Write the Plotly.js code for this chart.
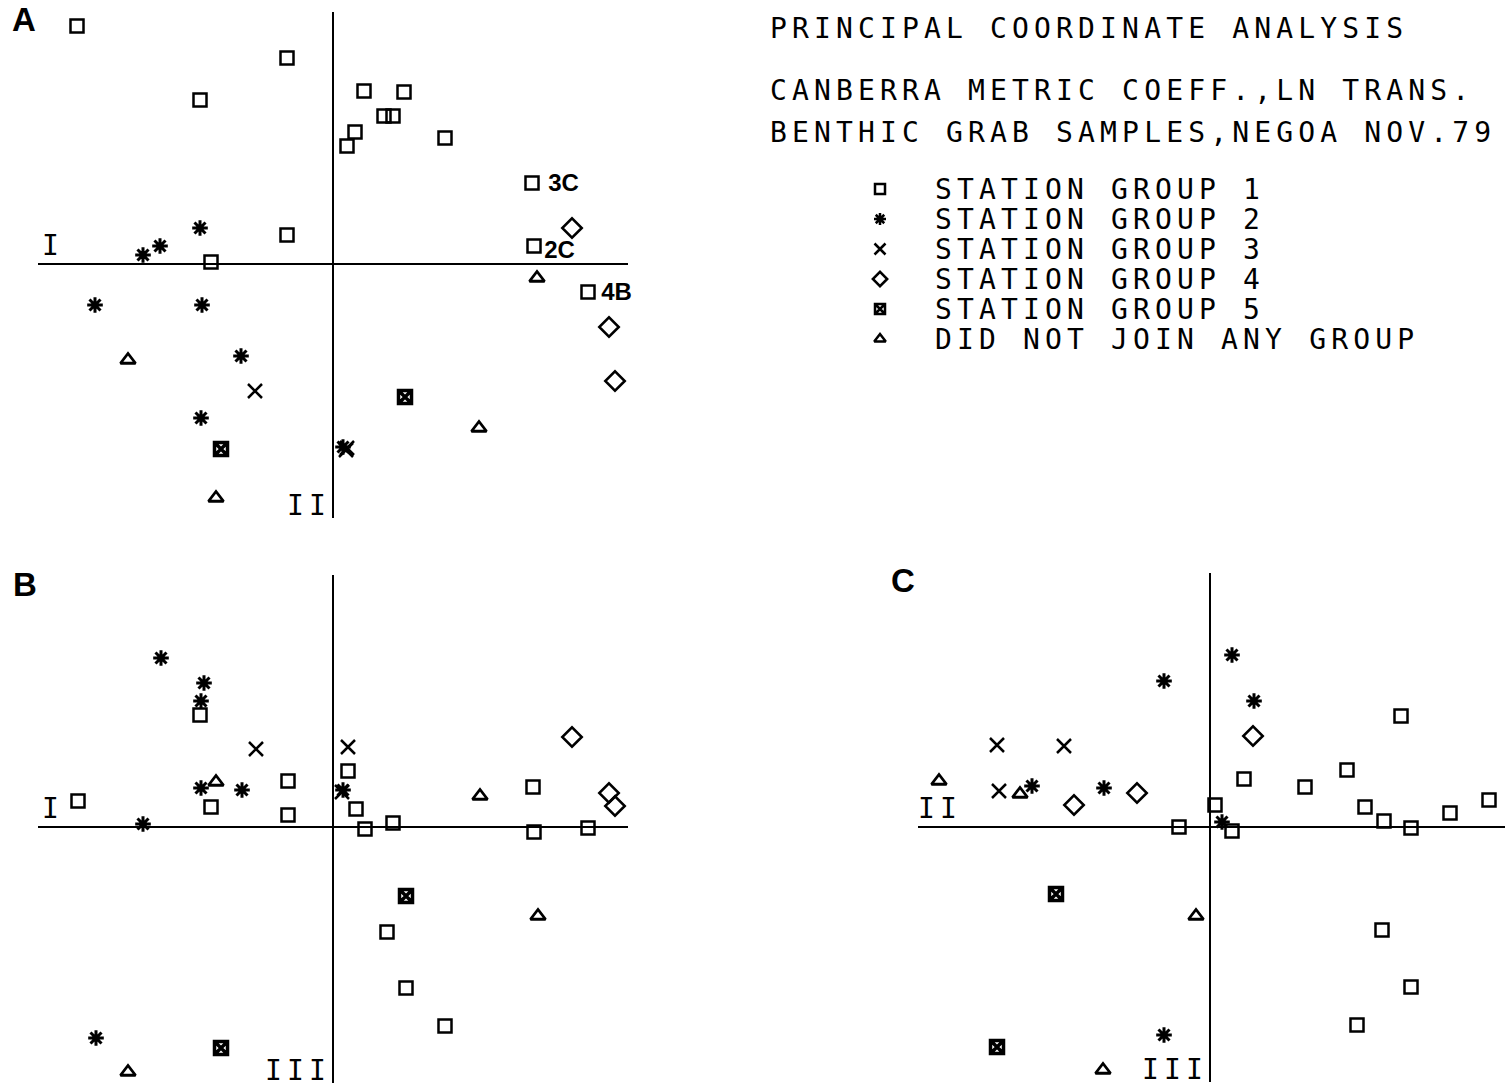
<!DOCTYPE html>
<html><head><meta charset="utf-8">
<script src="https://cdn.plot.ly/plotly-3.0.1.min.js"></script>
<style>
html,body{margin:0;padding:0;background:#fff;}
#chart{width:1508px;height:1086px;}
.annotation-text{letter-spacing:5.15px;}
.annotation[data-index="0"] .annotation-text,
.annotation[data-index="1"] .annotation-text,
.annotation[data-index="2"] .annotation-text{letter-spacing:0;}
</style></head><body><div id="chart"></div>
<script>
// ---------- text ----------
const TITLE_LINES = ['PRINCIPAL COORDINATE ANALYSIS', 'CANBERRA METRIC COEFF.,LN TRANS.', 'BENTHIC GRAB SAMPLES,NEGOA NOV.79'];
const GROUPS = ['STATION GROUP 1', 'STATION GROUP 2', 'STATION GROUP 3', 'STATION GROUP 4', 'STATION GROUP 5', 'DID NOT JOIN ANY GROUP'];
const PANEL_LABELS = ['A', 'B', 'C'];
const AXIS_NAMES = ['I', 'II', 'III'];

// ---------- Panel A: axis I (horizontal) vs axis II (vertical) ----------
const A_G1_I   = [-2.56, -0.46, -1.33, 0.31, 0.71, 0.51, 0.60, 0.22, 0.14, 1.12, 1.99, 2.01, -0.46, -1.22, 2.55];
const A_G1_II  = [ 2.38,  2.06,  1.64, 1.73, 1.72, 1.48, 1.48, 1.32, 1.18, 1.26, 0.81, 0.18,  0.29,  0.02, -0.28];
const A_G1_LBL = ['', '', '', '', '', '', '', '', '', '', '3C', '2C', '', '', '4B'];
const A_G2_I   = [-1.33, -1.73, -1.90, -2.38, -1.31, -0.92, -1.32, 0.10];
const A_G2_II  = [ 0.36,  0.18,  0.09, -0.41, -0.41, -0.92, -1.54, -1.83];
const A_G3_I   = [-0.78, 0.13, 0.14];
const A_G3_II  = [-1.27, -1.86, -1.84];
const A_G4_I   = [2.39, 2.76, 2.82];
const A_G4_II  = [0.36, -0.63, -1.17];
const A_G5_I   = [0.72, -1.12];
const A_G5_II  = [-1.33, -1.85];
const A_G6_I   = [2.04, -2.05, 1.46, -1.17];
const A_G6_II  = [-0.14, -0.96, -1.64, -2.34];

// ---------- Panel B: axis I (horizontal) vs axis III (vertical) ----------
const B_G1_I   = [-2.55, -1.33, -1.22, -0.45, -0.45, 0.15, 0.23, 0.32, 0.60, 2.00, 2.01, 2.55, 0.54, 0.73, 1.12];
const B_G1_III = [ 0.26,  1.12,  0.20,  0.46,  0.12, 0.56, 0.18, -0.02, 0.04, 0.40, -0.05, -0.01, -1.05, -1.61, -1.99];
const B_G2_I   = [-1.72, -1.29, -1.32, -1.32, -0.91, -1.90, -2.37, 0.10];
const B_G2_III = [ 1.69,  1.44,  1.26,  0.39,  0.37,  0.03, -2.11, 0.37];
const B_G3_I   = [-0.77, 0.15, 0.09];
const B_G3_III = [0.78, 0.80, 0.35];
const B_G4_I   = [2.39, 2.76, 2.82];
const B_G4_III = [0.90, 0.34, 0.21];
const B_G5_I   = [0.73, -1.12];
const B_G5_III = [-0.69, -2.21];
const B_G6_I   = [-1.17, 1.47, 2.05, -2.05];
const B_G6_III = [0.45, 0.31, -0.89, -2.45];

// ---------- Panel C: axis II (horizontal) vs axis III (vertical) ----------
const C_G1_II  = [1.91, 1.37, 0.95, 0.34, 0.05, -0.31, 0.22, 1.55, 1.74, 2.01, 2.40, 2.79, 1.72, 2.01, 1.47];
const C_G1_III = [1.11, 0.57, 0.40, 0.48, 0.22, 0.00, -0.04, 0.20, 0.06, -0.01, 0.14, 0.27, -1.03, -1.60, -1.98];
const C_G2_II  = [-0.46, 0.22, 0.44, -1.78, -1.06, 0.12, -0.46];
const C_G2_III = [ 1.46, 1.72, 1.26,  0.41,  0.39, 0.05, -2.08];
const C_G3_II  = [-2.13, -1.46, -2.11];
const C_G3_III = [0.82, 0.81, 0.36];
const C_G4_II  = [0.43, -0.73, -1.36];
const C_G4_III = [0.91, 0.34, 0.22];
const C_G5_II  = [-1.54, -2.13];
const C_G5_III = [-0.67, -2.20];
const C_G6_II  = [-2.71, -1.90, -0.14, -1.07];
const C_G6_III = [0.46, 0.33, -0.89, -2.43];

// ---------- styling / layout ----------
const W = 1508, H = 1086, S = 100; // px per unit
const MONO = 'DejaVu Sans Mono';
const STYLES = [
  {symbol: 'square-open', size: 13, lw: 2.5},
  {symbol: 'asterisk-open', size: 13, lw: 3},
  {symbol: 'x-thin-open', size: 14, lw: 2.5},
  {symbol: 'diamond-open', size: 15, lw: 2.5},
  {symbol: 'square-x-open', size: 13, lw: 3.5},
  {symbol: 'triangle-up-open', size: 13, lw: 2.8}
];
// pixel offsets of the station labels (3C, 2C, 4B) from their squares
const LABEL_SHIFT = {'3C': [9, 0], '2C': [3, -4], '4B': [6, 0]};

function mk(xs, ys, g, xa, ya) {
  const st = STYLES[g];
  return {
    type: 'scatter', mode: 'markers',
    x: xs, y: ys, xaxis: xa, yaxis: ya,
    marker: {symbol: st.symbol, size: st.size, color: '#000', line: {color: '#000', width: st.lw}},
    cliponaxis: false, hoverinfo: 'skip', showlegend: false
  };
}

const traces = [
  mk(A_G1_I, A_G1_II, 0, 'x', 'y'),
  mk(A_G2_I, A_G2_II, 1, 'x', 'y'),
  mk(A_G3_I, A_G3_II, 2, 'x', 'y'),
  mk(A_G4_I, A_G4_II, 3, 'x', 'y'),
  mk(A_G5_I, A_G5_II, 4, 'x', 'y'),
  mk(A_G6_I, A_G6_II, 5, 'x', 'y'),
  mk(B_G1_I, B_G1_III, 0, 'x2', 'y2'),
  mk(B_G2_I, B_G2_III, 1, 'x2', 'y2'),
  mk(B_G3_I, B_G3_III, 2, 'x2', 'y2'),
  mk(B_G4_I, B_G4_III, 3, 'x2', 'y2'),
  mk(B_G5_I, B_G5_III, 4, 'x2', 'y2'),
  mk(B_G6_I, B_G6_III, 5, 'x2', 'y2'),
  mk(C_G1_II, C_G1_III, 0, 'x3', 'y3'),
  mk(C_G2_II, C_G2_III, 1, 'x3', 'y3'),
  mk(C_G3_II, C_G3_III, 2, 'x3', 'y3'),
  mk(C_G4_II, C_G4_III, 3, 'x3', 'y3'),
  mk(C_G5_II, C_G5_III, 4, 'x3', 'y3'),
  mk(C_G6_II, C_G6_III, 5, 'x3', 'y3')
];

// legend symbols on a hidden axis, one row per group
GROUPS.forEach((name, i) => {
  const st = STYLES[i];
  traces.push({
    type: 'scatter', mode: 'markers', x: [0], y: [i], xaxis: 'x4', yaxis: 'y4',
    marker: {symbol: st.symbol, size: Math.round(st.size * 0.75), color: '#000', line: {color: '#000', width: Math.min(st.lw, 2.5)}},
    cliponaxis: false, hoverinfo: 'skip', showlegend: false
  });
});

function xAx(p0, p1, origin) {
  return {domain: [p0 / W, p1 / W], range: [(p0 - origin) / S, (p1 - origin) / S],
    showgrid: false, showticklabels: false, ticks: '', showline: false,
    zeroline: true, zerolinecolor: '#000', zerolinewidth: 2.5, fixedrange: true};
}
function yAx(p0, p1, origin) {
  return {domain: [1 - p1 / H, 1 - p0 / H], range: [(origin - p1) / S, (origin - p0) / S],
    showgrid: false, showticklabels: false, ticks: '', showline: false,
    zeroline: true, zerolinecolor: '#000', zerolinewidth: 2.5, fixedrange: true};
}

const monoFont = {family: MONO, size: 28, color: '#000'};
const annotations = [];
// station labels first (indices 0-2, no letter spacing)
A_G1_LBL.forEach((lbl, i) => {
  if (!lbl) return;
  const sh = LABEL_SHIFT[lbl] || [6, 0];
  annotations.push({xref: 'x', yref: 'y', x: A_G1_I[i], y: A_G1_II[i], xanchor: 'left', yanchor: 'middle',
    xshift: sh[0], yshift: sh[1], text: lbl, showarrow: false,
    font: {family: 'Liberation Sans', size: 24, weight: 'bold', color: '#000'}});
});
TITLE_LINES.forEach((t, i) => {
  annotations.push({xref: 'paper', yref: 'paper', x: 768 / W, y: 1 - [28, 90, 133][i] / H,
    xanchor: 'left', yanchor: 'middle', text: t, showarrow: false, font: monoFont});
});
GROUPS.forEach((g, i) => {
  annotations.push({xref: 'paper', yref: 'y4', x: 933 / W, y: i,
    xanchor: 'left', yanchor: 'middle', text: g, showarrow: false, font: monoFont});
});
// axis names
annotations.push(
  {xref: 'x domain', yref: 'y', x: 0, y: 0, xanchor: 'left', yanchor: 'bottom', xshift: 2, text: AXIS_NAMES[0], showarrow: false, font: monoFont},
  {xref: 'x', yref: 'y domain', x: 0, y: 0, xanchor: 'right', yanchor: 'bottom', yshift: -6, text: AXIS_NAMES[1], showarrow: false, font: monoFont},
  {xref: 'x2 domain', yref: 'y2', x: 0, y: 0, xanchor: 'left', yanchor: 'bottom', xshift: 2, text: AXIS_NAMES[0], showarrow: false, font: monoFont},
  {xref: 'x2', yref: 'y2 domain', x: 0, y: 0, xanchor: 'right', yanchor: 'bottom', yshift: -6, text: AXIS_NAMES[2], showarrow: false, font: monoFont},
  {xref: 'x3 domain', yref: 'y3', x: 0, y: 0, xanchor: 'left', yanchor: 'bottom', xshift: -2, text: AXIS_NAMES[1], showarrow: false, font: monoFont},
  {xref: 'x3', yref: 'y3 domain', x: 0, y: 0, xanchor: 'right', yanchor: 'bottom', yshift: -6, text: AXIS_NAMES[2], showarrow: false, font: monoFont}
);
// panel letters
[[23, 20], [24, 584], [902, 580]].forEach((p, i) => {
  annotations.push({xref: 'paper', yref: 'paper', x: p[0] / W, y: 1 - p[1] / H, xanchor: 'center', yanchor: 'middle',
    xshift: 3, text: PANEL_LABELS[i], showarrow: false, font: {family: 'Liberation Sans', size: 33, weight: 'bold', color: '#000'}});
});

const layout = {
  width: W, height: H, margin: {l: 0, r: 0, t: 0, b: 0},
  paper_bgcolor: '#fff', plot_bgcolor: 'rgba(0,0,0,0)', showlegend: false,
  xaxis:  Object.assign(xAx(38, 628, 333), {anchor: 'y'}),
  yaxis:  Object.assign(yAx(12, 518, 264), {anchor: 'x'}),
  xaxis2: Object.assign(xAx(38, 628, 333), {anchor: 'y2'}),
  yaxis2: Object.assign(yAx(575, 1083, 827), {anchor: 'x2'}),
  xaxis3: Object.assign(xAx(918, 1505, 1210), {anchor: 'y3'}),
  yaxis3: Object.assign(yAx(573, 1082, 827), {anchor: 'x3'}),
  xaxis4: {domain: [870 / W, 890 / W], range: [-1, 1], visible: false, anchor: 'y4', fixedrange: true},
  yaxis4: {domain: [1 - 354 / H, 1 - 174 / H], range: [5.5, -0.5], visible: false, anchor: 'x4', fixedrange: true},
  annotations: annotations
};

Plotly.newPlot('chart', traces, layout, {displayModeBar: false, staticPlot: true});
</script></body></html>
